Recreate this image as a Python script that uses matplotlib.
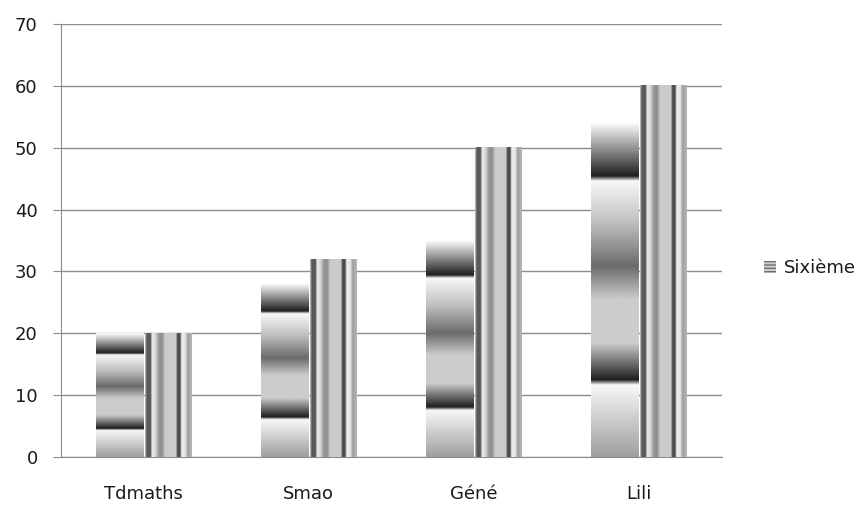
import numpy as np
import matplotlib.pyplot as plt
from matplotlib.patches import Patch

# Data
categories = ['Tdmaths', 'Smao', 'Géné', 'Lili']
serie1 = [20, 28, 35, 54]
serie2 = [20, 32, 50, 60]
legend_label = 'Sixième'

# textures (grey levels), shaded like the old Excel "texture" fills
# horizontal bands: position from top of the bar -> grey
band_pos = [0.0, 0.16, 0.175, 0.30, 0.43, 0.53, 0.66, 0.77, 0.785, 1.0]
band_val = [1.0, 0.12, 0.97, 0.75, 0.42, 0.80, 0.80, 0.12, 0.97, 0.62]
# vertical stripes: position from left of the bar -> grey
stripe_pos = [0.0, 0.04, 0.12, 0.15, 0.22, 0.29, 0.36, 0.43, 0.66, 0.69, 0.75, 0.78, 0.86, 0.91, 1.0]
stripe_val = [0.8, 0.35, 0.35, 0.92, 0.85, 0.6, 0.55, 0.8, 0.8, 0.3, 0.3, 0.93, 0.9, 0.62, 0.72]

plt.rcParams['font.family'] = 'DejaVu Sans'

fig = plt.figure(figsize=(8.65, 5.07), dpi=100)
ax = fig.add_axes([0.0705, 0.0986, 0.764, 0.854])

x = np.arange(len(categories))
w = 0.29
b1 = ax.bar(x - w / 2, serie1, w, color='none', linewidth=0, zorder=3)
b2 = ax.bar(x + w / 2, serie2, w, color='none', linewidth=0, zorder=3)

t = np.linspace(0, 1, 400)
prof1 = np.interp(t, band_pos, band_val)[::-1].reshape(-1, 1)  # bottom row first
prof2 = np.interp(t, stripe_pos, stripe_val).reshape(1, -1)

for p in b1:
    x0, y0 = p.get_x(), p.get_y()
    ax.imshow(prof1, cmap='gray', vmin=0, vmax=1, origin='lower', aspect='auto',
              interpolation='bilinear', zorder=3,
              extent=(x0, x0 + p.get_width(), y0, y0 + p.get_height()))
for p in b2:
    x0, y0 = p.get_x(), p.get_y()
    ax.imshow(prof2, cmap='gray', vmin=0, vmax=1, origin='lower', aspect='auto',
              interpolation='bilinear', zorder=3,
              extent=(x0 + 0.006, x0 + p.get_width(), y0, y0 + p.get_height()))

ax.set_xlim(-0.5, len(categories) - 0.5)
ax.set_ylim(0, 70)
ax.set_yticks(range(0, 71, 10))
ax.set_xticks(x)
ax.set_xticklabels(categories)

grid_c = '#8c8c8c'
ax.yaxis.grid(True, color=grid_c, linewidth=1)
ax.set_axisbelow(True)
for s in ['top', 'right']:
    ax.spines[s].set_visible(False)
ax.spines['left'].set_color(grid_c)
ax.spines['bottom'].set_color(grid_c)
ax.tick_params(axis='y', length=5.8, color=grid_c, labelsize=13, labelcolor='#1a1a1a', pad=11)
ax.tick_params(axis='x', length=0, labelsize=13, labelcolor='#1a1a1a', pad=20)

handle = Patch(facecolor='#d0d0d0', edgecolor='#707070', hatch='-----', linewidth=0)
fig.legend([handle], [legend_label], loc='center left', bbox_to_anchor=(0.864, 0.471),
           frameon=False, fontsize=13, handlelength=0.7, handleheight=0.7,
           handletextpad=0.4, labelcolor='#1a1a1a')

fig.savefig('out.png', dpi=100)
